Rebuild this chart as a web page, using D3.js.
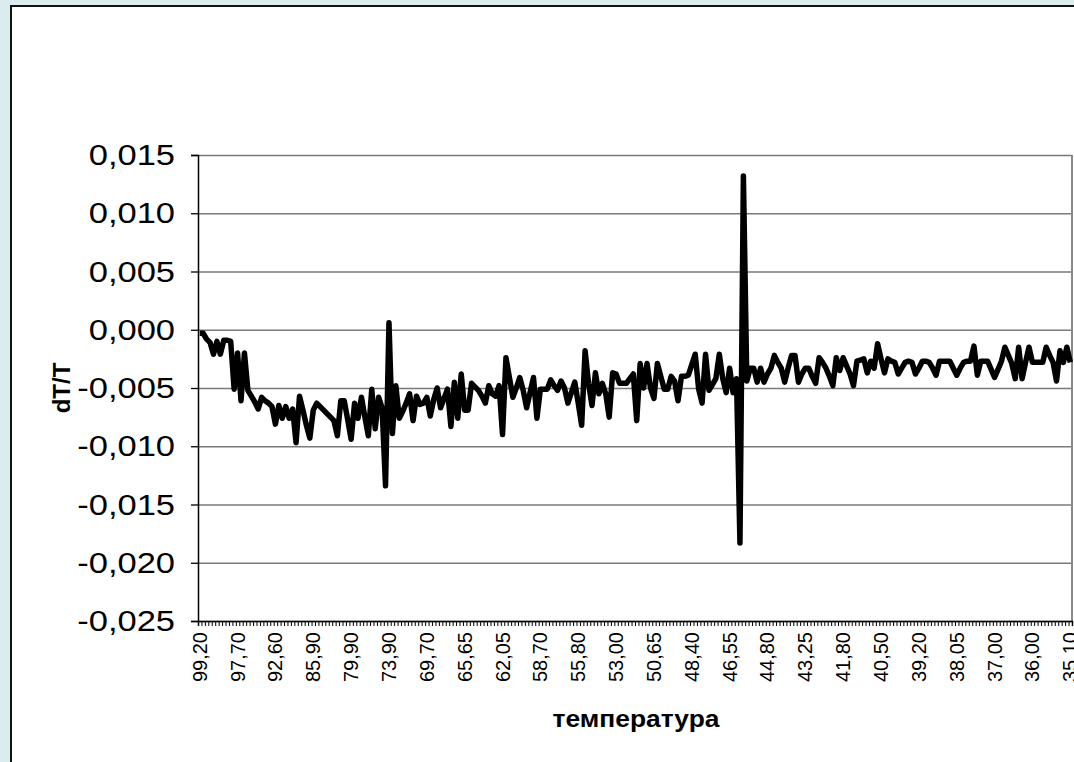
<!DOCTYPE html>
<html lang="ru">
<head>
<meta charset="utf-8">
<title>dT/T</title>
<script src="https://cdn.jsdelivr.net/npm/d3@7"></script>
<style>
  body { margin: 0; background: #dbecef; }
  text { font-family: "Liberation Sans", Arial, sans-serif; }
</style>
</head>
<body>
<script>
// tick labels shown under the x axis (every 11th category)
var tickLabels = ["99,20","97,70","92,60","85,90","79,90","73,90","69,70","65,65","62,05","58,70","55,80","53,00",
                  "50,65","48,40","46,55","44,80","43,25","41,80","40,50","39,20","38,05","37,00","36,00","35,10"];
var labelStep = 11;
var yTicks = [-0.025, -0.020, -0.015, -0.010, -0.005, 0.000, 0.005, 0.010, 0.015];

// dT/T (254 points)
var dTT = [
 -0.0003,-0.0003,-0.0008,-0.0011,-0.0021,-0.0010,-0.0021,-0.0009,-0.0009,-0.0010,
 -0.0051,-0.0020,-0.0061,-0.0020,-0.0052,-0.0057,-0.0062,-0.0068,-0.0058,-0.0061,
 -0.0063,-0.0066,-0.0081,-0.0065,-0.0076,-0.0066,-0.0076,-0.0068,-0.0097,-0.0057,
 -0.0069,-0.0082,-0.0093,-0.0069,-0.0063,-0.0066,-0.0069,-0.0072,-0.0075,-0.0078,
 -0.0091,-0.0061,-0.0061,-0.0077,-0.0094,-0.0063,-0.0076,-0.0058,-0.0075,-0.0091,
 -0.0051,-0.0085,-0.0058,-0.0067,-0.0134, 0.0006,-0.0089,-0.0048,-0.0076,-0.0070,
 -0.0063,-0.0055,-0.0078,-0.0057,-0.0064,-0.0063,-0.0058,-0.0074,-0.0060,-0.0050,
 -0.0067,-0.0059,-0.0051,-0.0083,-0.0045,-0.0076,-0.0038,-0.0069,-0.0069,-0.0046,
 -0.0049,-0.0052,-0.0057,-0.0063,-0.0048,-0.0055,-0.0057,-0.0048,-0.0090,-0.0024,
 -0.0041,-0.0058,-0.0050,-0.0041,-0.0052,-0.0067,-0.0054,-0.0041,-0.0076,-0.0051,
 -0.0051,-0.0051,-0.0043,-0.0048,-0.0052,-0.0044,-0.0050,-0.0063,-0.0054,-0.0045,
 -0.0063,-0.0082,-0.0018,-0.0046,-0.0065,-0.0037,-0.0055,-0.0046,-0.0055,-0.0075,
 -0.0037,-0.0038,-0.0046,-0.0046,-0.0046,-0.0042,-0.0038,-0.0078,-0.0029,-0.0050,
 -0.0029,-0.0050,-0.0059,-0.0029,-0.0040,-0.0051,-0.0051,-0.0040,-0.0044,-0.0061,
 -0.0040,-0.0040,-0.0039,-0.0030,-0.0021,-0.0051,-0.0063,-0.0021,-0.0052,-0.0047,
 -0.0042,-0.0021,-0.0042,-0.0054,-0.0033,-0.0054,-0.0042,-0.0183, 0.0132,-0.0044,
 -0.0033,-0.0033,-0.0045,-0.0033,-0.0045,-0.0038,-0.0033,-0.0022,-0.0028,-0.0033,
 -0.0045,-0.0033,-0.0022,-0.0022,-0.0045,-0.0038,-0.0033,-0.0033,-0.0040,-0.0046,
 -0.0024,-0.0028,-0.0033,-0.0040,-0.0048,-0.0024,-0.0035,-0.0024,-0.0031,-0.0038,
 -0.0048,-0.0027,-0.0026,-0.0025,-0.0037,-0.0027,-0.0033,-0.0012,-0.0025,-0.0037,
 -0.0025,-0.0027,-0.0028,-0.0038,-0.0033,-0.0028,-0.0027,-0.0028,-0.0038,-0.0033,
 -0.0027,-0.0027,-0.0028,-0.0033,-0.0039,-0.0027,-0.0027,-0.0027,-0.0027,-0.0033,
 -0.0039,-0.0033,-0.0028,-0.0027,-0.0027,-0.0014,-0.0039,-0.0027,-0.0027,-0.0027,
 -0.0034,-0.0041,-0.0034,-0.0027,-0.0015,-0.0022,-0.0029,-0.0042,-0.0015,-0.0042,
 -0.0028,-0.0015,-0.0028,-0.0028,-0.0028,-0.0028,-0.0015,-0.0022,-0.0028,-0.0044,
 -0.0018,-0.0028,-0.0015,-0.0028
];

var W = 1074, H = 762;
var plotLeft = 198, plotRight = 1072, plotTop = 155, plotBottom = 621;
var stretch = 1.15; // the original picture is a bit wider than tall

var svg = d3.select("body").append("svg")
    .attr("width", W)
    .attr("height", H);

// chart area
svg.append("rect")
    .attr("x", 11).attr("y", 6)
    .attr("width", W + 20).attr("height", H + 20)
    .attr("fill", "white")
    .attr("stroke", "#111")
    .attr("stroke-width", 2);

var x = d3.scaleBand()
    .domain(d3.range(dTT.length))
    .range([plotLeft, plotRight]);

var xEdge = d3.scaleLinear()
    .domain([0, dTT.length])
    .range([plotLeft, plotRight]);

var y = d3.scaleLinear()
    .domain([-0.025, 0.015])
    .range([plotBottom, plotTop]);

// gridlines
svg.append("g")
    .attr("transform", "translate(" + plotLeft + ",0)")
    .call(d3.axisLeft(y).tickValues(yTicks).tickSize(-(plotRight - plotLeft)).tickFormat(""))
    .call(function(g) {
        g.select(".domain").remove();
        g.selectAll("line").attr("stroke", "#7a7a7a").attr("stroke-width", 1.3);
    });

// plot border right
svg.append("line")
    .attr("x1", plotRight).attr("x2", plotRight)
    .attr("y1", plotTop).attr("y2", plotBottom)
    .attr("stroke", "#8a8a8a").attr("stroke-width", 2);

// y axis
svg.append("g")
    .attr("transform", "translate(" + plotLeft + ",0)")
    .call(d3.axisLeft(y).tickValues(yTicks).tickSize(7)
        .tickFormat(function(d) { return d.toFixed(3).replace(".", ","); }))
    .call(function(g) {
        g.select(".domain").attr("stroke", "#000").attr("stroke-width", 1.5);
        g.selectAll("line").attr("stroke", "#000").attr("stroke-width", 1.3);
        g.selectAll("text")
            .attr("x", -23 / stretch)
            .attr("transform", "scale(" + stretch + ",1)")
            .attr("font-size", 30)
            .attr("fill", "#000")
            .style("font-family", "'Liberation Sans', Arial, sans-serif");
    });

// x axis with a small tick at each category boundary
svg.append("g")
    .attr("transform", "translate(0," + plotBottom + ")")
    .call(d3.axisBottom(xEdge).tickValues(d3.range(dTT.length + 1)).tickSize(5).tickFormat(""))
    .call(function(g) {
        g.select(".domain").attr("stroke", "#000").attr("stroke-width", 1.5);
        g.selectAll("line").attr("stroke", "#000").attr("stroke-width", 1);
    });

svg.append("g")
    .selectAll("text")
    .data(tickLabels)
    .enter()
    .append("text")
    .attr("transform", function(d, i) {
        var cx = x(i * labelStep) + x.bandwidth() / 2;
        return "translate(" + cx + "," + (plotBottom + 11) + ") rotate(-90)";
    })
    .attr("dy", "0.35em")
    .attr("text-anchor", "end")
    .attr("font-size", 20)
    .text(function(d) { return d; });

// the series
var line = d3.line()
    .x(function(d, i) { return x(i) + x.bandwidth() / 2; })
    .y(function(d) { return y(d); });

svg.append("path")
    .datum(dTT)
    .attr("d", line)
    .attr("fill", "none")
    .attr("stroke", "#000")
    .attr("stroke-width", 5.5)
    .attr("stroke-linejoin", "round");

// axis titles
svg.append("text")
    .attr("transform", "translate(636,727) scale(1.1,1)")
    .attr("text-anchor", "middle")
    .attr("font-size", 24)
    .attr("font-weight", "bold")
    .text("температура");

svg.append("text")
    .attr("transform", "translate(70,388) rotate(-90)")
    .attr("text-anchor", "middle")
    .attr("font-size", 24)
    .attr("font-weight", "bold")
    .text("dT/T");
</script>
</body>
</html>
